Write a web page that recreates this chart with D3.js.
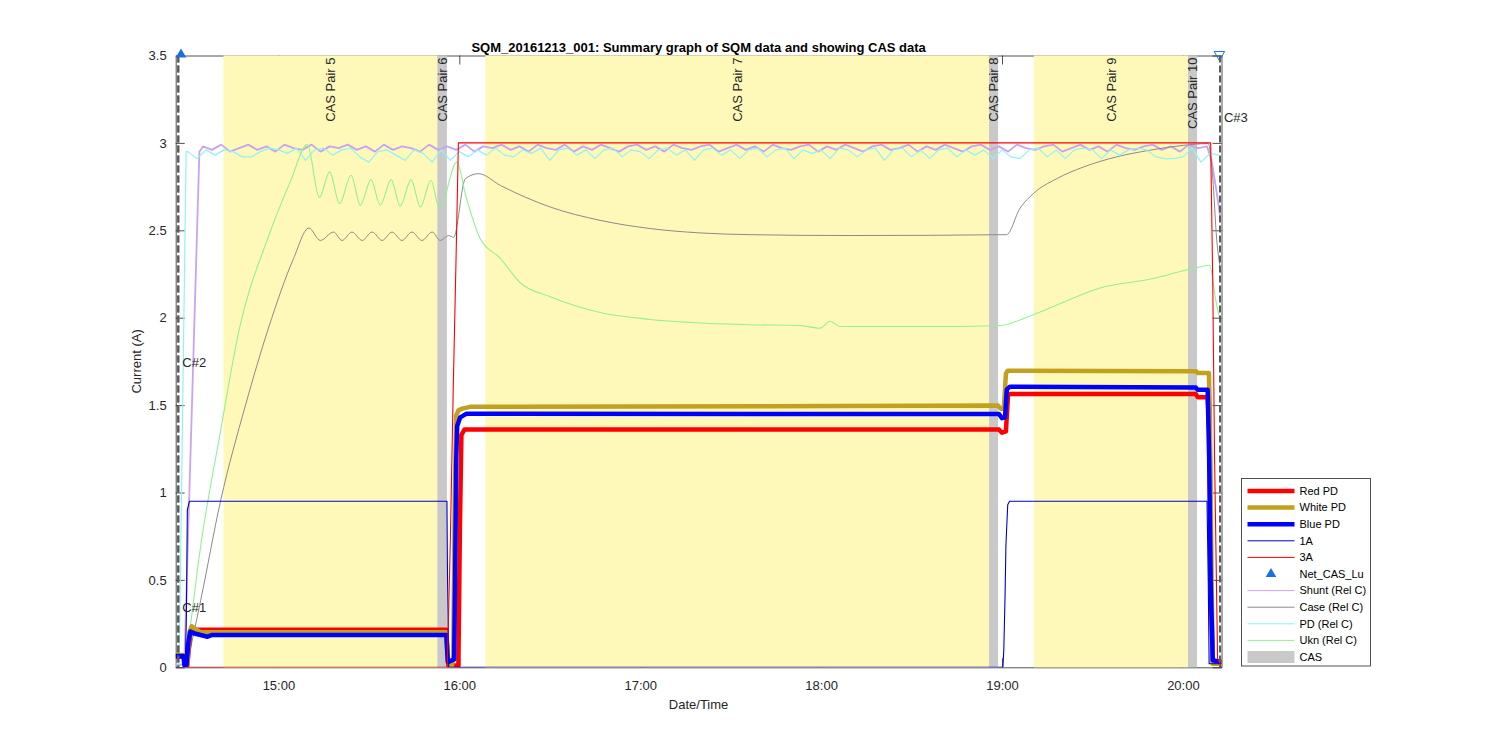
<!DOCTYPE html>
<html>
<head>
<meta charset="utf-8">
<script src="https://cdn.jsdelivr.net/npm/d3@7"></script>
<style>
  body { margin: 0; background: #fff; }
  svg { font-family: "Liberation Sans", Arial, Helvetica, sans-serif; }
</style>
</head>
<body>
<div id="chart"></div>
<script>
// ---- data (time in minutes after 14:00, value in A) ----
var titleText = "SQM_20161213_001: Summary graph of SQM data and showing CAS data";
var yTicks = [0, 0.5, 1, 1.5, 2, 2.5, 3, 3.5];

var casNames  = ["CAS Pair 5", "CAS Pair 6", "CAS Pair 7", "CAS Pair 8", "CAS Pair 9", "CAS Pair 10"];
var casStart  = [41.8, 112.7, 128.6, 295.7, 310.6, 361.7];
var casEnd    = [112.7, 115.9, 295.7, 298.7, 361.7, 364.7];
var casKind   = ["pair", "cas", "pair", "cas", "pair", "cas"];

var cLabels   = ["C#1", "C#2", "C#3"];
var cTimes    = [26.8, 26.8, 372.3];
var cLabelVal = [0.34, 1.745, 3.145];

var netUp   = [[27.7, 3.5]];
var netDown = [[372.1, 3.5]];

var redPD = [[25.9,0.06],[28.5,0.06],[29.2,0.01],[29.8,0.01],[30.8,0.2],[31.8,0.215],[115.7,0.215],
  [116.0,0.1],[116.4,0.01],[119.7,0.01],[120.2,0.8],[120.7,1.33],[121.7,1.36],[299.0,1.36],[300.0,1.342],
  [301.3,1.35],[302.0,1.56],[302.6,1.563],[364.3,1.563],[364.9,1.545],[368.2,1.545],[368.9,1.3],
  [369.2,0.5],[369.9,0.03],[372.8,0.03]];

var whitePD = [[25.9,0.07],[28.5,0.07],[29.2,0.0],[29.8,0.02],[30.5,0.2],[31.2,0.235],[32.5,0.22],
  [34.2,0.2],[115.7,0.2],[116.4,0.03],[117.4,0.0],[118.0,0.05],[118.5,1.0],[119.0,1.44],[119.7,1.47],
  [121.0,1.48],[123.6,1.49],[298.7,1.497],[299.6,1.478],[300.6,1.48],[301.3,1.68],[301.9,1.697],
  [364.3,1.694],[364.9,1.684],[368.6,1.684],[368.9,1.5],[369.2,1.0],[369.6,0.4],[369.9,0.02],[372.8,0.02]];

var bluePD = [[25.9,0.065],[28.5,0.065],[28.85,0.01],[29.5,0.01],[30.2,0.15],[30.8,0.205],[31.8,0.195],
  [34.2,0.185],[36.5,0.175],[38.1,0.185],[115.7,0.185],[116.2,0.03],[118.3,0.045],[118.6,0.5],[119.0,1.2],
  [119.3,1.38],[120.3,1.43],[122.3,1.45],[299.0,1.449],[300.0,1.425],[301.0,1.43],[301.6,1.59],
  [302.6,1.605],[364.3,1.6],[364.9,1.588],[368.2,1.588],[368.7,1.2],[369.2,0.5],[369.9,0.04],[372.8,0.03]];

var oneA = [[25.9,0.07],[29.2,0.07],[29.5,0.3],[29.8,0.9],[30.5,0.95],[115.9,0.95],[116.1,0.5],
  [116.5,0.0],[300.3,0.0],[300.6,0.1],[301.0,0.4],[301.3,0.7],[301.9,0.93],[302.5,0.95],[368.0,0.95],
  [368.4,0.5],[368.7,0.02],[372.8,0.02]];

var threeA = [[29.5,0.0],[116.0,0.0],[117.0,0.7],[118.0,1.6],[119.0,2.4],[119.7,3.0],[369.2,3.0],
  [369.9,2.2],[370.5,1.2],[371.5,0.05],[372.8,0.0]];

var shuntRamp = [[25.9,0.01],[28.8,0.02],[31.5,1.6],[33.8,2.95]];
var shuntStart = 35, shuntStep = 3;
var shuntVals = [
  2.98,2.96,2.99,2.95,2.97,2.99,2.96,2.98,2.95,2.99,
  2.97,2.96,2.99,2.95,2.98,2.97,2.99,2.96,2.98,2.95,
  2.99,2.96,2.98,2.97,2.95,2.99,2.96,2.98,2.96,2.99,
  2.95,2.98,2.97,2.99,2.96,2.98,2.95,2.99,2.97,2.96,
  2.99,2.95,2.98,2.96,2.99,2.97,2.95,2.98,2.99,2.96,
  2.98,2.95,2.99,2.97,2.96,2.98,2.99,2.95,2.97,2.99,
  2.96,2.98,2.95,2.99,2.97,2.96,2.98,2.99,2.95,2.98,
  2.96,2.99,2.97,2.95,2.98,2.99,2.96,2.97,2.99,2.95,
  2.98,2.96,2.99,2.97,2.95,2.98,2.99,2.96,2.98,2.95,
  2.99,2.97,2.96,2.98,2.99,2.95,2.97,2.99,2.96,2.98,
  2.95,2.99,2.97,2.96,2.98,2.99,2.96,2.98,2.95,2.99,
  2.97,2.98];
var shuntEnd = [[369.5,2.9],[370.9,2.75],[372.2,2.6],[372.8,2.55]];

var caseRelC = [[29.5,0.0],[34.2,0.38],[40.8,0.95],[49.1,1.5],[56.7,1.94],[65.0,2.337],[70.1,2.513],
  [73.9,2.442],[78.3,2.49],[81.1,2.442],[84.4,2.49],[87.8,2.442],[91.1,2.49],[94.4,2.442],[97.7,2.49],
  [101.0,2.442],[104.3,2.49],[107.6,2.442],[111.0,2.49],[113.7,2.442],[116.5,2.47],[118.1,2.46],
  [122.0,2.795],[126.4,2.824],[133.6,2.757],[150.2,2.633],[166.7,2.557],[183.3,2.51],[199.9,2.485],
  [216.5,2.475],[249.6,2.47],[301.5,2.475],[305.9,2.624],[310.4,2.71],[318.1,2.795],[327.0,2.862],
  [338.0,2.92],[349.0,2.958],[360.1,2.986],[368.4,2.996],[369.9,2.8],[371.2,2.45],[372.8,2.25]];

var pdRamp = [[25.9,0.02],[27.1,0.02],[29.4,2.95]];
var pdStart = 30, pdStep = 3;
var pdVals = [
  2.95,2.91,2.96,2.93,2.96,2.95,2.92,2.92,2.95,2.97,
  2.96,2.94,2.97,2.90,2.96,2.97,2.93,2.96,2.97,2.92,
  2.89,2.95,2.96,2.93,2.90,2.96,2.94,2.89,2.96,2.90,
  2.95,2.92,2.96,2.93,2.97,2.93,2.92,2.96,2.94,2.97,
  2.90,2.96,2.97,2.93,2.96,2.91,2.96,2.97,2.92,2.96,
  2.95,2.91,2.96,2.97,2.93,2.96,2.90,2.96,2.97,2.93,
  2.96,2.91,2.96,2.97,2.92,2.96,2.97,2.91,2.96,2.94,
  2.96,2.91,2.97,2.96,2.92,2.96,2.97,2.90,2.96,2.97,
  2.92,2.96,2.91,2.96,2.97,2.92,2.96,2.93,2.96,2.91,
  2.96,2.92,2.91,2.96,2.97,2.92,2.96,2.91,2.96,2.97,
  2.96,2.91,2.96,2.93,2.96,2.97,2.96,2.92,2.91,2.91,
  2.92,2.97,2.89,2.94,2.93];

var uknRelC = [[29.2,0.0],[34.2,0.69],[40.8,1.35],[47.1,1.94],[56.4,2.45],[64.0,2.78],[69.6,2.99],
  [73.6,2.687],[77.0,2.834],[80.3,2.652],[84.1,2.815],[87.2,2.643],[90.7,2.79],[93.8,2.643],[97.4,2.79],
  [100.4,2.639],[104.0,2.79],[107.1,2.633],[110.6,2.786],[113.4,2.624],[119.2,2.89],[122.1,2.70],
  [127.0,2.45],[133.6,2.34],[140.2,2.2],[150.2,2.12],[166.7,2.03],[183.3,1.99],[199.9,1.97],[216.5,1.96],
  [233.0,1.955],[239.7,1.94],[243.0,1.98],[246.3,1.95],[266.2,1.95],[282.8,1.95],[299.3,1.955],
  [309.3,2.01],[319.2,2.08],[332.5,2.17],[349.0,2.22],[365.6,2.29],[368.9,2.3],[370.9,2.1],[372.8,1.95]];

// ---- build noisy series from regular samples ----
var shuntRelC = shuntRamp.concat(shuntVals.map(function (v, i) { return [shuntStart + i * shuntStep, v]; }), shuntEnd);
var pdRelC = pdRamp.concat(pdVals.map(function (v, i) { return [pdStart + i * pdStep, v]; }));

// ---- layout ----
var width = 1500, height = 750;
var t0 = new Date(2016, 11, 13, 14, 0, 0);
function toDate(m) { return new Date(t0.getTime() + m * 60000); }

var x = d3.scaleTime().domain([toDate(25.94), toDate(372.8)]).range([175.7, 1221.5]);
var y = d3.scaleLinear().domain([0, 3.5]).range([667.3, 55.5]);
var textCol = "#262626";

var svg = d3.select("#chart").append("svg")
  .attr("width", width)
  .attr("height", height);

svg.append("defs").append("clipPath").attr("id", "plotclip")
  .append("rect")
  .attr("x", x.range()[0]).attr("y", y(3.5))
  .attr("width", x.range()[1] - x.range()[0]).attr("height", y(0) - y(3.5));

// axes (drawn first, bands cover them like in the original)
function styleAxis(g) {
  g.selectAll("path, line").attr("stroke", textCol).attr("stroke-width", 0.8);
  g.selectAll("text").attr("fill", textCol).attr("font-size", 13)
    .attr("font-family", "'Liberation Sans', Arial, Helvetica, sans-serif");
}
var hourTicks = d3.timeHour.every(1);
svg.append("g").attr("transform", "translate(0," + y(0) + ")")
  .call(d3.axisBottom(x).ticks(hourTicks).tickFormat(d3.timeFormat("%H:%M")).tickSizeInner(-9).tickSizeOuter(0).tickPadding(13))
  .call(styleAxis);
svg.append("g").attr("transform", "translate(0," + y(3.5) + ")")
  .call(d3.axisTop(x).ticks(hourTicks).tickFormat("").tickSizeInner(-9).tickSizeOuter(0))
  .call(styleAxis);
svg.append("g").attr("transform", "translate(" + x.range()[0] + ",0)")
  .call(d3.axisLeft(y).tickValues(yTicks).tickFormat(d3.format("~g")).tickSizeInner(-9).tickSizeOuter(0).tickPadding(9))
  .call(styleAxis);
svg.append("g").attr("transform", "translate(" + x.range()[1] + ",0)")
  .call(d3.axisRight(y).tickValues(yTicks).tickFormat("").tickSizeInner(-9).tickSizeOuter(0))
  .call(styleAxis);

// CAS bands
var bands = casNames.map(function (n, i) { return { name: n, s: casStart[i], e: casEnd[i], kind: casKind[i] }; });
svg.append("g").selectAll("rect").data(bands).enter().append("rect")
  .attr("x", function (d) { return x(toDate(d.s)); })
  .attr("width", function (d) { return x(toDate(d.e)) - x(toDate(d.s)); })
  .attr("y", y(3.5))
  .attr("height", y(0) - y(3.5))
  .attr("fill", function (d) { return d.kind == "pair" ? "#fff9b9" : "#c9c9c9"; });

// lines
var plot = svg.append("g").attr("clip-path", "url(#plotclip)");
function addLine(data, color, w, curve) {
  var line = d3.line()
    .x(function (d) { return x(toDate(d[0])); })
    .y(function (d) { return y(d[1]); })
    .curve(curve || d3.curveLinear);
  plot.append("path").datum(data)
    .attr("d", line)
    .attr("fill", "none")
    .attr("stroke", color)
    .attr("stroke-width", w)
    .attr("stroke-linejoin", "round");
}
addLine(shuntRelC, "#c9a3f2", 1.8);
addLine(caseRelC, "#8a8a8a", 1, d3.curveMonotoneX);
addLine(pdRelC, "#8ef4f4", 1.2);
addLine(uknRelC, "#93f093", 1.1, d3.curveMonotoneX);
addLine(redPD, "#ff0000", 4.5);
addLine(whitePD, "#c2a11f", 4.5);
addLine(bluePD, "#0000ff", 4.5);
addLine(oneA, "#0000c8", 1.1);
addLine(threeA, "#ff0000", 1.1);

// event lines C#
var events = cLabels.map(function (l, i) { return { label: l, t: cTimes[i], v: cLabelVal[i] }; });
svg.append("g").selectAll("line").data(events).enter().append("line")
  .attr("x1", function (d) { return x(toDate(d.t)); })
  .attr("x2", function (d) { return x(toDate(d.t)); })
  .attr("y1", y(3.5)).attr("y2", y(0))
  .attr("stroke", "#5a5a5a").attr("stroke-width", 2).attr("stroke-dasharray", "7,3");
svg.append("g").selectAll("text").data(events).enter().append("text")
  .attr("x", function (d) { return x(toDate(d.t)) + 4; })
  .attr("y", function (d) { return y(d.v); })
  .attr("dy", "0.35em")
  .attr("font-size", 13).attr("fill", textCol)
  .text(function (d) { return d.label; });

// Net_CAS_Lu markers
var tri = d3.symbol().type(d3.symbolTriangle).size(48);
svg.append("g").selectAll("path").data(netUp).enter().append("path")
  .attr("d", tri)
  .attr("transform", function (d) { return "translate(" + x(toDate(d[0])) + "," + (y(d[1]) - 1) + ")"; })
  .attr("fill", "#1a6fe0");
svg.append("g").selectAll("path").data(netDown).enter().append("path")
  .attr("d", tri)
  .attr("transform", function (d) { return "translate(" + x(toDate(d[0])) + "," + (y(d[1]) - 1) + ") rotate(180)"; })
  .attr("fill", "none").attr("stroke", "#1a6fe0").attr("stroke-width", 1);

// CAS labels
svg.append("g").selectAll("text").data(bands).enter().append("text")
  .attr("transform", function (d) {
    return "translate(" + x(toDate((d.s + d.e) / 2)) + "," + (y(3.5) + 2) + ") rotate(-90)";
  })
  .attr("text-anchor", "end")
  .attr("dy", "0.35em")
  .attr("font-size", 13).attr("fill", textCol)
  .text(function (d) { return d.name; });

// title and axis labels
svg.append("text").attr("x", (x.range()[0] + x.range()[1]) / 2).attr("y", 52)
  .attr("text-anchor", "middle").attr("font-size", 13).attr("font-weight", "bold").attr("fill", "#000")
  .text(titleText);
svg.append("text").attr("x", (x.range()[0] + x.range()[1]) / 2).attr("y", 709)
  .attr("text-anchor", "middle").attr("font-size", 13).attr("fill", textCol)
  .text("Date/Time");
svg.append("text").attr("transform", "translate(141," + ((y(0) + y(3.5)) / 2) + ") rotate(-90)")
  .attr("text-anchor", "middle").attr("font-size", 13).attr("fill", textCol)
  .text("Current (A)");

// legend
var legendNames = ["Red PD", "White PD", "Blue PD", "1A", "3A", "Net_CAS_Lu", "Shunt (Rel C)", "Case (Rel C)", "PD (Rel C)", "Ukn (Rel C)", "CAS"];
var legendColors = ["#ff0000", "#c2a11f", "#0000ff", "#0000c8", "#ff0000", "#1a6fe0", "#c9a3f2", "#8a8a8a", "#8ef4f4", "#93f093", "#c9c9c9"];
var legendWidths = [4.5, 4.5, 4.5, 1, 1, 0, 1, 1, 1, 1, 0];
var lg = svg.append("g").attr("transform", "translate(1241.5,478.5)");
lg.append("rect").attr("width", 129).attr("height", 187.5)
  .attr("fill", "#fff").attr("stroke", textCol).attr("stroke-width", 0.8);
var items = lg.selectAll("g.item").data(legendNames).enter().append("g")
  .attr("transform", function (d, i) { return "translate(0," + (12.5 + i * 16.6) + ")"; });
items.each(function (d, i) {
  var g = d3.select(this);
  if (d == "Net_CAS_Lu") {
    g.append("path").attr("d", tri).attr("transform", "translate(29.5,0)").attr("fill", legendColors[i]);
  } else if (d == "CAS") {
    g.append("rect").attr("x", 6).attr("y", -6).attr("width", 47).attr("height", 12).attr("fill", legendColors[i]);
  } else {
    g.append("line").attr("x1", 6).attr("x2", 53).attr("stroke", legendColors[i]).attr("stroke-width", legendWidths[i]);
  }
  g.append("text").attr("x", 58).attr("dy", "0.35em").attr("font-size", 11).attr("fill", "#000").text(d);
});
</script>
</body>
</html>
